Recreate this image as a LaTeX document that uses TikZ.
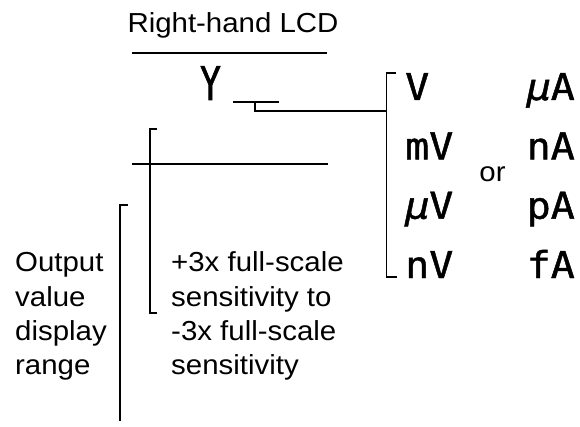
\documentclass[tikz,border=0pt]{standalone}
\usepackage{fontspec}
\setmainfont{Liberation Sans}[FakeStretch=1.07]
\newfontfamily\unitfont{DejaVu Sans Mono}[FakeStretch=1.08,FakeBold=1.2]
\newfontfamily\yfont{DejaVu Sans Mono}[FakeStretch=0.75,FakeBold=1.2]
\begin{document}
\begin{tikzpicture}[x=1pt,y=-1pt,
  lbl/.style={inner sep=0pt,font=\fontsize{27.5}{33}\selectfont},
  unit/.style={inner sep=0pt,font=\unitfont\fontsize{37}{44}\selectfont},
  ybig/.style={inner sep=0pt,font=\yfont\fontsize{46.5}{56}\selectfont},
  ln/.style={line width=1.5pt,line cap=rect}]
\useasboundingbox (0,0) rectangle (580,427);
% title and display
\node[lbl,anchor=base] (title) at (233,33) {Right-hand LCD};
\coordinate (tl1) at (133,53); \coordinate (tl2) at (326,53);
\draw[ln] (tl1) -- (tl2);
\node[ybig,anchor=base] (Y) at (210.5,100) {Y};
\coordinate (u1) at (234,102); \coordinate (u2) at (278,102);
\draw[ln] (u1) -- (u2);
\coordinate (ut) at (255,102); \coordinate (uc) at (255,111);
\coordinate (bj) at (386.5,111);
\draw[ln] (ut) -- (uc) -- (bj);
% right bracket
\coordinate (rb1) at (395,73); \coordinate (rb2) at (386.5,73);
\coordinate (rb3) at (386.5,277); \coordinate (rb4) at (396,277);
\draw[ln] (rb1) -- (rb2) -- (rb3) -- (rb4);
% units
\node[unit,anchor=base west] (V)  at (405,100)   {V};
\node[unit,anchor=base west] (mV) at (405,159.3) {mV};
\node[unit,anchor=base west] (uV) at (405,218.7) {{\itshape μ}V};
\node[unit,anchor=base west] (nV) at (405,278)   {nV};
\node[unit,anchor=base east] (uA) at (575,100)   {{\itshape μ}A};
\node[unit,anchor=base east] (nA) at (575,159.3) {nA};
\node[unit,anchor=base east] (pA) at (575,218.7) {pA};
\node[unit,anchor=base east] (fA) at (575,278)   {fA};
\node[lbl,anchor=base] (or) at (492.5,182) {or};
% middle line and bracket
\coordinate (ml1) at (133,164); \coordinate (ml2) at (327,164);
\draw[ln] (ml1) -- (ml2);
\coordinate (mb1) at (156,129); \coordinate (mb2) at (150,129);
\coordinate (mb3) at (150,313); \coordinate (mb4) at (156,313);
\draw[ln] (mb1) -- (mb2) -- (mb3) -- (mb4);
% left bracket
\coordinate (lb1) at (127,205); \coordinate (lb2) at (120,205);
\coordinate (lb3) at (120,420);
\draw[ln] (lb1) -- (lb2) -- (lb3);
% texts
\node[lbl,anchor=base west] (o1) at (15,272) {Output};
\node[lbl,anchor=base west] (o2) at (15,306) {value};
\node[lbl,anchor=base west] (o3) at (15,340) {display};
\node[lbl,anchor=base west] (o4) at (15,374) {range};
\node[lbl,anchor=base west] (s1) at (171,272) {+3x full-scale};
\node[lbl,anchor=base west] (s2) at (171,306) {sensitivity to};
\node[lbl,anchor=base west] (s3) at (171,340) {-3x full-scale};
\node[lbl,anchor=base west] (s4) at (171,374) {sensitivity};
\end{tikzpicture}
\end{document}
